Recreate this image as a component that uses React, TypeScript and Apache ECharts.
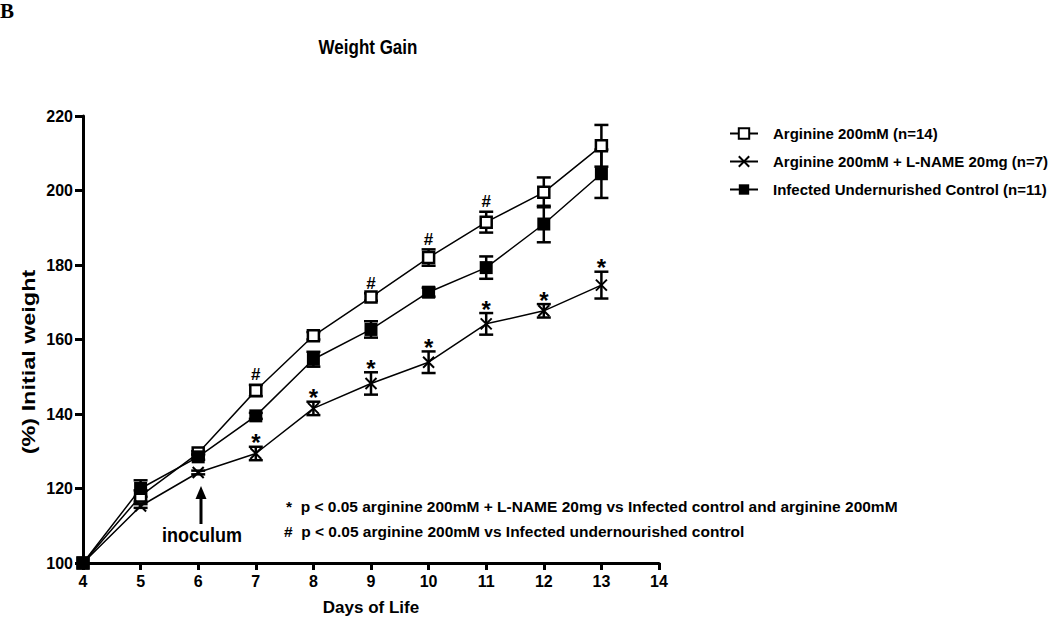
import React, { useEffect, useRef } from "react";
import * as echarts from "echarts";

const days = [4, 5, 6, 7, 8, 9, 10, 11, 12, 13];
const arginine = [100, 118, 129.5, 146.3, 161, 171.4, 182, 191.5, 199.5, 212];
const arginineErr = [0, 1.5, 0.5, 1.5, 1, 1, 2.2, 2.8, 4, 5.6];
const lname = [100, 115.3, 124.3, 129.4, 141.5, 148.2, 153.9, 164.2, 167.7, 174.6];
const lnameErr = [0, 0.5, 0.5, 1.8, 1.8, 3, 2.9, 2.9, 1.8, 3.6];
const control = [100, 120, 128.5, 139.5, 154.7, 162.7, 172.7, 179.3, 191, 204.5];
const controlErr = [0, 2.2, 0.8, 0.8, 2, 2.2, 1.2, 3, 4.9, 6.5];

const hashDays = [7, 9, 10, 11];
const starDays = [7, 8, 9, 10, 11, 12, 13];

const seriesNames = [
  "Arginine 200mM (n=14)",
  "Arginine 200mM + L-NAME 20mg (n=7)",
  "Infected Undernurished Control (n=11)",
];
const footnotes = [
  "*  p < 0.05 arginine 200mM + L-NAME 20mg vs Infected control and arginine 200mM",
  "#  p < 0.05 arginine 200mM vs Infected undernourished control",
];

const FONT = "'Liberation Sans', Arial, sans-serif";

function errData(vals: number[], errs: number[]) {
  const out: number[][] = [];
  days.forEach((d, i) => {
    if (errs[i] > 0) out.push([d, vals[i] - errs[i], vals[i] + errs[i]]);
  });
  return out;
}

function sigData(sigDays: number[], vals: number[], errs: number[]) {
  return sigDays.map((d) => {
    const i = days.indexOf(d);
    return [d, vals[i] + errs[i]];
  });
}

export default function App() {
  const ref = useRef<HTMLDivElement>(null);
  useEffect(() => {
    if (!ref.current) return;
    const chart = echarts.init(ref.current, null, { renderer: "svg" });

    const errRender = (params: any, api: any) => {
      const x = api.value(0);
      const lo = api.value(1);
      const hi = api.value(2);
      const t = api.coord([x, hi]);
      const b = api.coord([x, lo]);
      const w = 7;
      const st = { stroke: "#000", lineWidth: 2.5 };
      return {
        type: "group",
        children: [
          { type: "line", shape: { x1: t[0], y1: t[1], x2: b[0], y2: b[1] }, style: st },
          { type: "line", shape: { x1: t[0] - w, y1: t[1], x2: t[0] + w, y2: t[1] }, style: st },
          { type: "line", shape: { x1: b[0] - w, y1: b[1], x2: b[0] + w, y2: b[1] }, style: st },
        ],
      };
    };

    const sigRender = (sym: string) => (params: any, api: any) => {
      const p = api.coord([api.value(0), api.value(1)]);
      return {
        type: "text",
        x: p[0],
        y: p[1] - (sym === "*" ? 4 : 10),
        style: {
          text: sym,
          font: sym === "*" ? `bold 24px ${FONT}` : `bold 17px ${FONT}`,
          fill: "#000",
          align: "center",
          verticalAlign: "middle",
        },
      };
    };

    const lineBase = {
      type: "line",
      lineStyle: { color: "#000", width: 1.5 },
      z: 3,
    };

    chart.setOption({
      animation: false,
      backgroundColor: "#fff",
      grid: { left: 83, right: 391, top: 116, bottom: 58 },
      xAxis: {
        type: "value",
        min: 4,
        max: 14,
        interval: 1,
        axisLine: { lineStyle: { color: "#000", width: 3 } },
        axisTick: { length: 7, lineStyle: { color: "#000", width: 3 } },
        axisLabel: { color: "#000", fontSize: 16, fontWeight: "bold", fontFamily: FONT, margin: 10 },
        splitLine: { show: false },
        name: "Days of Life",
        nameLocation: "middle",
        nameGap: 36,
        nameTextStyle: { color: "#000", fontSize: 17, fontWeight: "bold", fontFamily: FONT },
      },
      yAxis: {
        type: "value",
        min: 100,
        max: 220,
        interval: 20,
        axisLine: { lineStyle: { color: "#000", width: 3 } },
        axisTick: { length: 8, lineStyle: { color: "#000", width: 3 } },
        axisLabel: { color: "#000", fontSize: 16, fontWeight: "bold", fontFamily: FONT, margin: 10 },
        splitLine: { show: false },
      },
      legend: {
        data: seriesNames,
        orient: "vertical",
        left: 724,
        top: 121,
        itemWidth: 28,
        itemHeight: 13,
        itemGap: 13,
        textStyle: { color: "#000", fontSize: 15, fontWeight: "bold", fontFamily: FONT, padding: [0, 0, 0, 10] },
      },
      graphic: [
        { type: "text", left: 0, top: 0, style: { text: "B", font: "bold 21px 'Liberation Serif', 'Times New Roman', serif", fill: "#000" } },
        { type: "text", x: 368, y: 47, scaleY: 1.2, style: { text: "Weight Gain", font: `bold 17px ${FONT}`, fill: "#000", align: "center", verticalAlign: "middle" } },
        { type: "text", x: 29, y: 362, rotation: Math.PI / 2, scaleX: 1.3, style: { text: "(%) Initial weight", font: `bold 18px ${FONT}`, fill: "#000", align: "center", verticalAlign: "middle" } },
        { type: "line", shape: { x1: 201, y1: 524, x2: 201, y2: 496 }, style: { stroke: "#000", lineWidth: 3 } },
        { type: "polygon", shape: { points: [[201, 486], [195.5, 499], [206.5, 499]] }, style: { fill: "#000" } },
        { type: "text", x: 202, y: 535, scaleY: 1.15, style: { text: "inoculum", font: `bold 18px ${FONT}`, fill: "#000", align: "center", verticalAlign: "middle" } },
        { type: "text", x: 286, y: 506, style: { text: footnotes[0], font: `bold 15.5px ${FONT}`, fill: "#000", verticalAlign: "middle" } },
        { type: "text", x: 284, y: 531, style: { text: footnotes[1], font: `bold 15.5px ${FONT}`, fill: "#000", verticalAlign: "middle" } },
      ],
      series: [
        { type: "custom", renderItem: errRender, data: errData(arginine, arginineErr), encode: { x: 0, y: [1, 2] }, z: 2, silent: true },
        { type: "custom", renderItem: errRender, data: errData(lname, lnameErr), encode: { x: 0, y: [1, 2] }, z: 2, silent: true },
        { type: "custom", renderItem: errRender, data: errData(control, controlErr), encode: { x: 0, y: [1, 2] }, z: 2, silent: true },
        { type: "custom", renderItem: sigRender("#"), data: sigData(hashDays, arginine, arginineErr), encode: { x: 0, y: 1 }, z: 4, silent: true },
        { type: "custom", renderItem: sigRender("*"), data: sigData(starDays, lname, lnameErr), encode: { x: 0, y: 1 }, z: 4, silent: true },
        {
          ...lineBase,
          name: seriesNames[0],
          data: days.map((d, i) => [d, arginine[i]]),
          symbol: "rect",
          symbolSize: 11,
          itemStyle: { color: "#fff", borderColor: "#000", borderWidth: 2.5 },
        },
        {
          ...lineBase,
          name: seriesNames[1],
          data: days.map((d, i) => [d, lname[i]]),
          symbol: "path://M0,0L10,10M10,0L0,10",
          symbolSize: 11,
          itemStyle: { color: "#000", borderColor: "#000", borderWidth: 2 },
        },
        {
          ...lineBase,
          name: seriesNames[2],
          data: days.map((d, i) => [d, control[i]]),
          symbol: "rect",
          symbolSize: 13,
          itemStyle: { color: "#000", borderColor: "#000", borderWidth: 0 },
        },
      ],
    });
    return () => chart.dispose();
  }, []);
  return <div ref={ref} style={{ position: "fixed", left: 0, top: 0, width: 1050, height: 621, background: "#fff" }} />;
}
